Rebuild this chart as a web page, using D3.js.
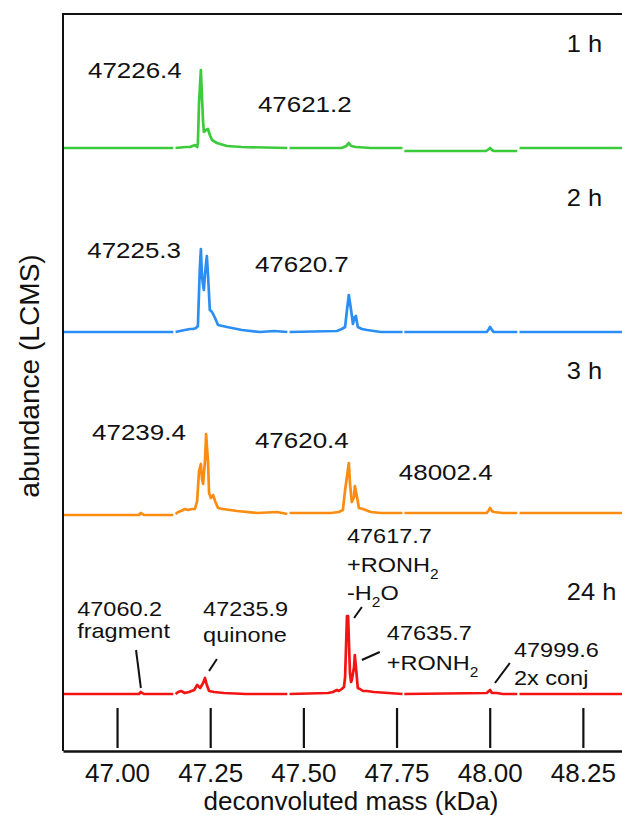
<!DOCTYPE html>
<html>
<head>
<meta charset="utf-8">
<script src="https://cdnjs.cloudflare.com/ajax/libs/d3/7.8.5/d3.min.js"></script>
<style>
  body { margin: 0; background: #fff; }
  svg { display: block; font-family: "Liberation Sans", Arial, Helvetica, sans-serif; }
</style>
</head>
<body>
<svg id="chart" width="622" height="815"></svg>
<script>
// time points, one panel each (top to bottom)
var timepoints = ['1 h', '2 h', '3 h', '24 h'];
var massTicks = [47.00, 47.25, 47.50, 47.75, 48.00, 48.25];

// deconvoluted spectra: [mass (kDa), abundance (arb.)], null = break in trace
var spec1h = [
    [46.855, 0], [47.151, 0], null,
    [47.157, 0], [47.185, 1], [47.196, 1], [47.209, 3], [47.215, 1], [47.217, 5], [47.220, 45],
    [47.225, 78], [47.228, 50], [47.231, 26], [47.233, 16], [47.239, 18], [47.244, 19], [47.249, 13],
    [47.255, 8], [47.268, 5], [47.295, 2], [47.335, 1], [47.457, 0], null,
    [47.463, 0], [47.603, 0], [47.615, 2], [47.622, 5], [47.628, 2], [47.641, 1], [47.681, 0], [47.766, 0], null,
    [47.771, -3], [47.990, -3], [47.998, -1], [48.001, 0], [48.006, -2], [48.011, -3], [48.074, -3], null,
    [48.080, 0], [48.355, 0]
];
var spec2h = [
    [46.855, 0], [47.151, 0], null,
    [47.157, 0], [47.169, 1], [47.182, 2], [47.196, 3], [47.204, 3], [47.212, 4], [47.217, 6], [47.222, 62],
    [47.225, 83], [47.228, 55], [47.233, 42], [47.236, 58], [47.241, 76], [47.244, 58], [47.249, 22],
    [47.255, 20], [47.263, 14], [47.271, 7], [47.295, 5], [47.335, 2], [47.384, 0], [47.421, 1], [47.457, 0], null,
    [47.463, 0], [47.590, 1], [47.603, 3], [47.612, 5], [47.617, 22], [47.622, 37], [47.628, 22], [47.633, 8],
    [47.638, 15], [47.641, 16], [47.646, 5], [47.657, 3], [47.671, 2], [47.708, 0], [47.766, 0], null,
    [47.771, 0], [47.992, 0], [47.998, 3], [48.001, 5], [48.006, 2], [48.011, 0], [48.074, 0], null,
    [48.080, 0], [48.355, 0]
];
var spec3h = [
    [46.855, 0], [47.059, 0], [47.064, 2], [47.072, 0], [47.151, 0], null,
    [47.157, 1], [47.164, 3], [47.172, 4], [47.182, 6], [47.190, 5], [47.201, 6], [47.209, 6], [47.215, 14],
    [47.220, 44], [47.225, 51], [47.228, 36], [47.231, 31], [47.236, 54], [47.239, 81], [47.244, 54],
    [47.247, 22], [47.252, 17], [47.258, 20], [47.263, 14], [47.271, 7], [47.284, 6], [47.322, 4],
    [47.376, 2], [47.429, 3], [47.457, 1], null,
    [47.463, 2], [47.574, 2], [47.595, 3], [47.606, 5], [47.612, 25], [47.622, 52], [47.625, 32], [47.630, 13],
    [47.636, 18], [47.638, 29], [47.644, 18], [47.649, 7], [47.660, 6], [47.681, 3], [47.708, 2], [47.766, 2], null,
    [47.771, 2], [47.992, 2], [47.998, 5], [48.001, 7], [48.006, 4], [48.011, 3], [48.035, 2], [48.074, 2], null,
    [48.080, 2], [48.355, 2]
];
var spec24h = [
    [46.855, 0], [47.059, 0], [47.064, 2], [47.072, 0], [47.151, 0], null,
    [47.157, 0], [47.164, 2], [47.172, 3], [47.182, 1], [47.193, 2], [47.207, 4], [47.215, 9], [47.223, 6],
    [47.231, 11], [47.236, 16], [47.241, 9], [47.247, 3], [47.260, 2], [47.287, 1], [47.346, 0], [47.457, 0], null,
    [47.463, 0], [47.566, 1], [47.579, 2], [47.590, 4], [47.595, 3], [47.603, 5], [47.609, 7], [47.612, 17],
    [47.617, 78], [47.620, 78], [47.625, 21], [47.628, 12], [47.630, 14], [47.636, 27], [47.638, 39],
    [47.641, 27], [47.646, 6], [47.652, 5], [47.660, 3], [47.671, 3], [47.689, 2], [47.766, 0], null,
    [47.771, 0], [47.992, 1], [47.998, 3], [48.001, 4], [48.006, 1], [48.019, 1], [48.035, 0], [48.074, 0], null,
    [48.080, 0], [48.355, 0]
];
var spectra = [spec1h, spec2h, spec3h, spec24h];

// peak annotations, anchored in data units (mass, abundance); "_2" = subscript 2
var peakLabels = [
    {panel: 0, text: '47226.4', mass: 46.922, ab: 70},
    {panel: 0, text: '47621.2', mass: 47.378, ab: 36},
    {panel: 1, text: '47225.3', mass: 46.920, ab: 74},
    {panel: 1, text: '47620.7', mass: 47.370, ab: 60},
    {panel: 2, text: '47239.4', mass: 46.933, ab: 75},
    {panel: 2, text: '47620.4', mass: 47.370, ab: 67},
    {panel: 2, text: '48002.4', mass: 47.756, ab: 35}
];
var conjLabels = [
    {text: '47617.7', mass: 47.617, ab: 151},
    {text: '+RONH_2', mass: 47.617, ab: 122},
    {text: '-H_2O', mass: 47.617, ab: 94},
    {text: '47060.2', mass: 46.893, ab: 78},
    {text: 'fragment', mass: 46.893, ab: 56},
    {text: '47235.9', mass: 47.231, ab: 78},
    {text: 'quinone', mass: 47.231, ab: 52},
    {text: '47635.7', mass: 47.724, ab: 54},
    {text: '+RONH_2', mass: 47.724, ab: 24},
    {text: '47999.6', mass: 48.065, ab: 37},
    {text: '2x conj', mass: 48.065, ab: 9}
];
var conjLeaders = [
    [[47.051, 44], [47.064, 6]],
    [[47.268, 35], [47.247, 23]],
    [[47.657, 87], [47.636, 76]],
    [[47.705, 42], [47.657, 34]],
    [[48.054, 31], [48.014, 11]]
];
var timeLabelAb = [96, 126, 136, 94];

// layout and style
var colors = ['#3ccb3c', '#2b8ef3', '#fb8c12', '#f41414'];
var baseY = [148, 332, 515, 694];
var frame = {top: 14, bottom: 751};

var svg = d3.select('#chart');
var x = d3.scaleLinear().domain([46.855, 48.355]).range([63, 622]);
var ys = baseY.map(function(b) {
    return d3.scaleLinear().domain([0, 100]).range([b, b - 100]);
});

function addText(g, str, px, py, size, sx) {
    var t = g.append('text')
        .attr('transform', 'translate(' + px + ',' + py + ') scale(' + sx + ',1)')
        .attr('font-size', size)
        .attr('fill', '#111');
    var parts = str.split('_');
    t.append('tspan').text(parts[0]);
    for (var i = 1; i < parts.length; i++) {
        t.append('tspan')
            .attr('font-size', size * 0.66)
            .attr('dy', size * 0.32)
            .text(parts[i].charAt(0));
        if (parts[i].length > 1) {
            t.append('tspan')
                .attr('dy', -size * 0.32)
                .text(parts[i].slice(1));
        }
    }
    return t;
}

// traces
spectra.forEach(function(spec, i) {
    var line = d3.line()
        .defined(function(d) { return d !== null; })
        .x(function(d) { return x(d[0]); })
        .y(function(d) { return ys[i](d[1]); });
    svg.append('path')
        .datum(spec)
        .attr('fill', 'none')
        .attr('stroke', colors[i])
        .attr('stroke-width', 2.7)
        .attr('stroke-linejoin', 'round')
        .attr('d', line);
});

// labels
var labels = svg.append('g');
timepoints.forEach(function(tp, i) {
    addText(labels, tp, x(48.207), ys[i](timeLabelAb[i]), 24, 1.06);
});
peakLabels.forEach(function(d) {
    addText(labels, d.text, x(d.mass), ys[d.panel](d.ab), 22, 1.18);
});
conjLabels.forEach(function(d) {
    addText(labels, d.text, x(d.mass), ys[3](d.ab), 21, 1.12);
});
svg.append('g')
    .selectAll('line')
    .data(conjLeaders)
    .enter().append('line')
    .attr('x1', function(d) { return x(d[0][0]); })
    .attr('y1', function(d) { return ys[3](d[0][1]); })
    .attr('x2', function(d) { return x(d[1][0]); })
    .attr('y2', function(d) { return ys[3](d[1][1]); })
    .attr('stroke', '#111')
    .attr('stroke-width', 2);

// frame: left and top edges
svg.append('path')
    .attr('d', 'M' + x.range()[0] + ',' + frame.bottom + 'V' + frame.top + 'H' + x.range()[1])
    .attr('fill', 'none')
    .attr('stroke', '#111')
    .attr('stroke-width', 2);

// x axis: line + labels
var xAxis = svg.append('g')
    .attr('transform', 'translate(0,' + frame.bottom + ')')
    .call(d3.axisBottom(x).tickValues(massTicks).tickSize(0).tickSizeOuter(0)
        .tickPadding(12.5).tickFormat(d3.format('.2f')));
xAxis.select('.domain').attr('stroke', '#111').attr('stroke-width', 2.4);
xAxis.selectAll('text')
    .attr('font-size', 26)
    .attr('font-family', '"Liberation Sans", Arial, sans-serif')
    .attr('fill', '#111');

// tall tick marks above the axis line
var tickG = svg.append('g')
    .attr('transform', 'translate(0,' + (frame.bottom - 3) + ')')
    .call(d3.axisTop(x).tickValues(massTicks).tickSize(40).tickSizeOuter(0).tickFormat(''));
tickG.select('.domain').remove();
tickG.selectAll('line').attr('stroke', '#111').attr('stroke-width', 2.2);

svg.append('text')
    .attr('x', 351)
    .attr('y', 810)
    .attr('text-anchor', 'middle')
    .attr('font-size', 26)
    .attr('fill', '#111')
    .text('deconvoluted mass (kDa)');

svg.append('text')
    .attr('transform', 'translate(39,376) rotate(-90) scale(1.04,1)')
    .attr('text-anchor', 'middle')
    .attr('font-size', 27)
    .attr('fill', '#111')
    .text('abundance (LCMS)');
</script>
</body>
</html>
